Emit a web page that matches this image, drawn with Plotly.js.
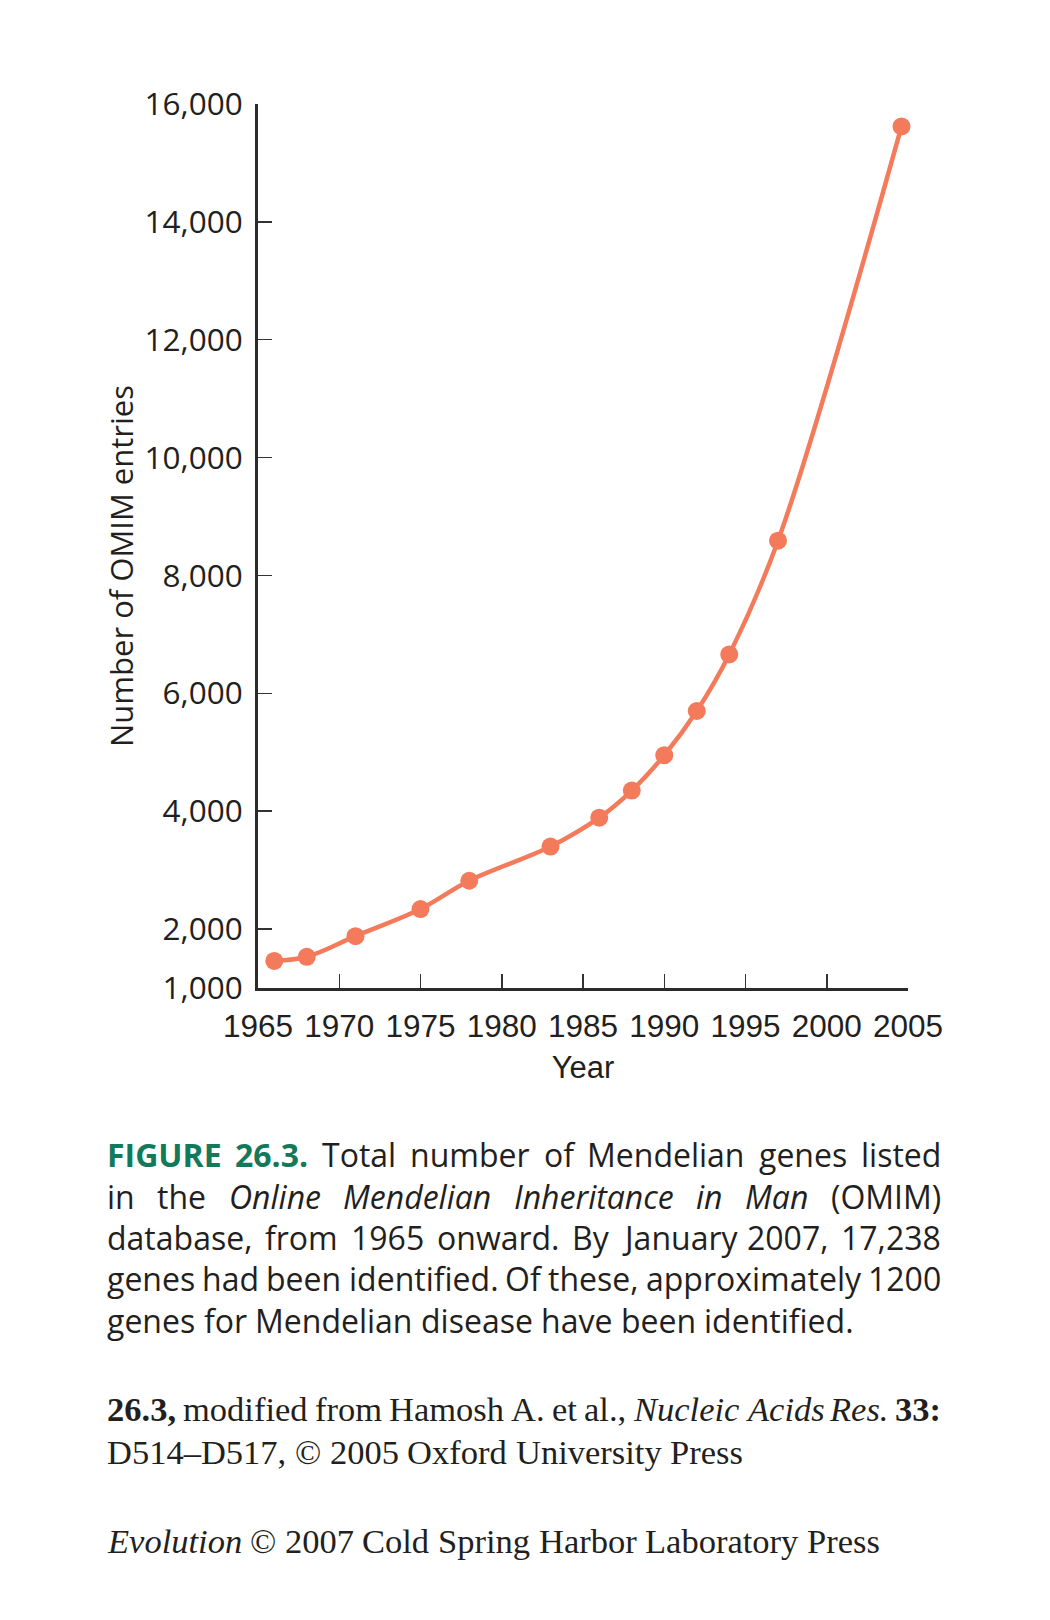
<!DOCTYPE html>
<html>
<head>
<meta charset="utf-8">
<script src="https://cdn.plot.ly/plotly-3.0.1.min.js"></script>
<style>html,body{margin:0;padding:0;background:#fff;}#chart{width:1050px;height:1620px;}</style>
</head>
<body>
<div id="chart"></div>
<script>
// ---- data ----
const years   = [1966, 1968, 1971, 1975, 1978, 1983, 1986, 1988, 1990, 1992, 1994, 1997, 2004.6];
const entries = [1460, 1530, 1880, 2340, 2820, 3400, 3890, 4350, 4950, 5700, 6660, 8590, 15620];

const xTickVals = [1965, 1970, 1975, 1980, 1985, 1990, 1995, 2000, 2005];
const xTickText = ["1965", "1970", "1975", "1980", "1985", "1990", "1995", "2000", "2005"];
const yTickVals = [1000, 2000, 4000, 6000, 8000, 10000, 12000, 14000, 16000];
const yTickText = ["1,000", "2,000", "4,000", "6,000", "8,000", "10,000", "12,000", "14,000", "16,000"];

const xTitle = "Year";
const yTitle = "Number of OMIM entries";

const captionLines = [
  [["FIGURE 26.3.", "bg"], ["Total number of Mendelian genes listed", ""]],
  [["in the", ""], ["Online Mendelian Inheritance in Man", "i"], ["(OMIM)", ""]],
  [["database, from 1965 onward. By January 2007, 17,238", ""]],
  [["genes had been identified. Of these, approximately 1200", ""]],
  [["genes for Mendelian disease have been identified.", ""]]
];
const creditLines = [
  [["26.3,", "b"], ["modified from Hamosh A. et al.,", ""], ["Nucleic Acids Res.", "i"], ["33:", "b"]],
  [["D514–D517, © 2005 Oxford University Press", ""]]
];
const footerLine = [["Evolution", "i"], ["© 2007 Cold Spring Harbor Laboratory Press", ""]];

// ---- layout geometry ----
const W = 1050, H = 1620;
const M = {l: 258, r: 142, t: 104, b: 632};
const PW = W - M.l - M.r, PH = H - M.t - M.b;
const px2x = p => (p - M.l) / PW;
const py2y = p => (H - M.b - p) / PH;

const HUMAN = "Open Sans";
const GROT = "Liberation Sans";
const SERIF = "Liberation Serif";
const GREEN = "#12795b";
const INK = "#231f20";
const LINE = "#f37b5b";

const cv = document.createElement("canvas");
const ctx = cv.getContext("2d");
function measure(txt, st, size, fam) {
  ctx.font = (st.indexOf("i") >= 0 ? "italic " : "") + (st.indexOf("b") >= 0 ? "bold " : "") + size + "px '" + fam + "'";
  return ctx.measureText(txt).width;
}
function wrapTxt(txt, st) {
  let s = txt;
  if (st.indexOf("b") >= 0) s = "<b>" + s + "</b>";
  if (st.indexOf("i") >= 0) s = "<i>" + s + "</i>";
  return s;
}
const annotations = [];
function addLine(segs, py, size, fam, justify, left, right) {
  const words = [];
  segs.forEach(([txt, st]) => txt.split(" ").forEach(w => { if (w) words.push([w, st]); }));
  const spaceW = measure(" ", "", size, fam);
  const widths = words.map(([w, st]) => measure(w, st, size, fam));
  const total = widths.reduce((a, b) => a + b, 0);
  let gap = spaceW;
  if (justify && words.length > 1) gap = (right - left - total) / (words.length - 1);
  let x = left;
  words.forEach(([w, st], i) => {
    annotations.push({
      text: wrapTxt(w, st), x: px2x(x), y: py2y(py), xref: "paper", yref: "paper",
      xanchor: "left", yanchor: "middle", showarrow: false, borderpad: 0,
      font: {family: fam, size: size, color: st.indexOf("g") >= 0 ? GREEN : INK}
    });
    x += widths[i] + gap;
  });
}
const capY = [1154, 1196, 1237, 1278, 1320];
captionLines.forEach((ln, i) => addLine(ln, capY[i], 32, HUMAN, i < captionLines.length - 1, 106, 940));
addLine(creditLines[0], 1409, 34.5, SERIF, true, 106, 940);
addLine(creditLines[1], 1452, 34.5, SERIF, false, 106, 940);
addLine(footerLine, 1541, 34.5, SERIF, false, 106, 940);

// y-axis title as rotated annotation
annotations.push({
  text: yTitle, x: px2x(121), y: py2y(566), xref: "paper", yref: "paper",
  xanchor: "center", yanchor: "middle", textangle: -90, showarrow: false,
  font: {family: HUMAN, size: 31, color: INK}
});

const trace = {
  x: years, y: entries, type: "scatter", mode: "lines+markers",
  line: {color: LINE, width: 4.5, shape: "spline", smoothing: 1},
  marker: {color: LINE, size: 18},
  cliponaxis: false, hoverinfo: "skip"
};

const layout = {
  width: W, height: H, margin: M, showlegend: false,
  paper_bgcolor: "#fff", plot_bgcolor: "#fff",
  font: {family: HUMAN, color: INK},
  xaxis: {
    range: [1965, 2005], tickvals: xTickVals, ticktext: xTickText,
    ticks: "inside", ticklen: 14, tickwidth: 1.5, tickcolor: "#333",
    showline: true, linewidth: 3, linecolor: "#2b2b2b", showgrid: false, zeroline: false,
    tickfont: {family: GROT, size: 31.5, color: INK}, ticklabelstandoff: 8,
    title: {text: xTitle, font: {family: GROT, size: 31, color: INK}, standoff: 14},
    fixedrange: true
  },
  yaxis: {
    range: [1000, 16000], tickvals: yTickVals, ticktext: yTickText,
    ticks: "inside", ticklen: 14, tickwidth: 1.5, tickcolor: "#333",
    showline: true, linewidth: 3, linecolor: "#2b2b2b", showgrid: false, zeroline: false,
    tickfont: {family: HUMAN, size: 31.5, color: INK}, ticklabelstandoff: 6,
    fixedrange: true
  },
  annotations: annotations
};

Plotly.newPlot("chart", [trace], layout, {displayModeBar: false, staticPlot: true});
</script>
</body>
</html>
